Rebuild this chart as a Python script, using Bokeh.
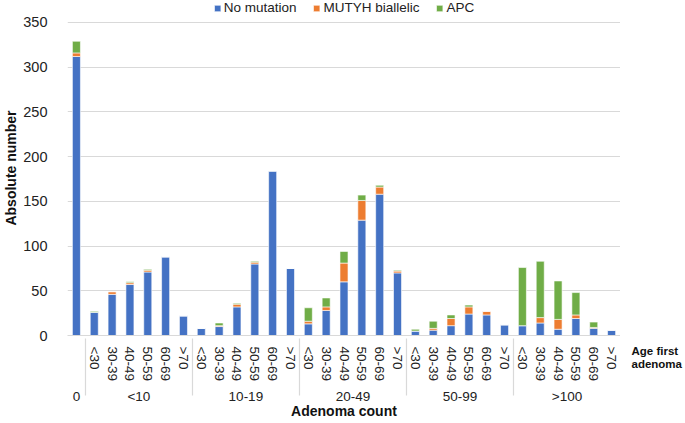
from bokeh.plotting import figure
from bokeh.layouts import row
from bokeh.models import (FactorRange, Range1d, ColumnDataSource, Legend, LegendItem,
                          FixedTicker, Title)
from bokeh.embed import file_html
from bokeh.resources import INLINE

# ---- data ----
groups = ["0", "<10", "10-19", "20-49", "50-99", ">100"]
ages = ["<30", "30-39", "40-49", "50-59", "60-69", ">70"]
series = ["No mutation", "MUTYH biallelic", "APC"]
no_mutation = [312, 26, 46, 57, 71, 88, 22, 8, 10, 32, 80, 184, 75,
               13, 28, 60, 129, 158, 70, 5, 6, 11, 24, 23, 12,
               11, 14, 7, 19, 8, 6]
mutyh = [4, 0, 3, 2, 2, 0, 0, 0, 1, 3, 2, 0, 0,
         3, 4, 21, 22, 8, 2, 0, 2, 8, 8, 4, 0,
         0, 6, 11, 4, 1, 0]
apc = [13, 1, 0, 1, 1, 0, 0, 0, 3, 1, 1, 0, 0,
       15, 10, 13, 6, 2, 1, 2, 8, 4, 2, 0, 0,
       65, 63, 43, 25, 6, 0]
y_ticks = [0, 50, 100, 150, 200, 250, 300, 350]
side_title = ["Age first", "adenoma"]
colors = ["#4472C4", "#ED7D31", "#70AD47"]

factors = [(groups[0], "")] + [(g, a) for g in groups[1:] for a in ages]
source = ColumnDataSource(dict(x=factors, nm=no_mutation, mu=mutyh, apc=apc))

FONT = "Liberation Sans"
TXT = "#222222"
GRID = "#d9d9d9"

H = 423
p = figure(x_range=FactorRange(*factors, group_padding=0, subgroup_padding=0,
                               factor_padding=0, range_padding=0),
           y_range=Range1d(0, 374.6),
           width=620, height=H, output_backend="svg", toolbar_location=None,
           min_border_left=67, min_border_right=0, min_border_top=0,
           min_border_bottom=88)
p.outline_line_color = None
p.background_fill_color = "white"

rs = p.vbar_stack(["nm", "mu", "apc"], x="x", width=0.45, source=source,
                  color=colors, line_color="white", line_width=0.6)

# grid
p.xgrid.grid_line_color = None
p.ygrid.grid_line_color = GRID
p.ygrid.grid_line_width = 1.2

# y axis
p.yaxis.ticker = FixedTicker(ticks=y_ticks)
p.yaxis.axis_line_color = None
p.yaxis.major_tick_line_color = None
p.yaxis.minor_tick_line_color = None
p.yaxis.major_label_standoff = 14
p.yaxis.major_label_text_font = FONT
p.yaxis.major_label_text_font_size = "14.5px"
p.yaxis.major_label_text_color = TXT
p.yaxis.axis_label = "Absolute number"
p.yaxis.axis_label_text_font = FONT
p.yaxis.axis_label_text_font_style = "bold"
p.yaxis.axis_label_text_font_size = "14px"
p.yaxis.axis_label_text_color = "#111111"
p.yaxis.axis_label_standoff = 1

# x axis
xa = p.xaxis[0]
xa.axis_line_color = GRID
xa.axis_line_width = 1.2
xa.major_tick_line_color = None
xa.minor_tick_line_color = None
xa.major_label_orientation = "vertical"
xa.major_label_standoff = 5
xa.major_label_text_font = FONT
xa.major_label_text_font_size = "13.5px"
xa.major_label_text_color = TXT
xa.group_text_font = FONT
xa.group_text_font_size = "13.5px"
xa.group_text_color = TXT
xa.group_text_font_style = "normal"
xa.separator_line_color = GRID
xa.separator_line_width = 1.2
xa.axis_label = "Adenoma count"
xa.axis_label_text_font = FONT
xa.axis_label_text_font_style = "bold"
xa.axis_label_text_font_size = "14px"
xa.axis_label_text_color = "#111111"
xa.axis_label_standoff = -4

legend = Legend(items=[LegendItem(label=s, renderers=[r]) for s, r in zip(series, rs)],
                orientation="horizontal", location="top_center",
                label_text_font=FONT, label_text_font_size="13.5px",
                label_text_color=TXT,
                glyph_width=8, glyph_height=8, label_standoff=3, spacing=16,
                padding=0, margin=0, border_line_color=None,
                background_fill_alpha=0, label_height=12)
p.add_layout(legend)

# right-hand strip carrying the "Age first adenoma" caption of the sub-axis
p2 = figure(width=685 - 620, height=H, output_backend="svg", toolbar_location=None,
            x_range=Range1d(0, 1), y_range=Range1d(0, 1),
            min_border=0, x_axis_type=None, y_axis_type=None)
p2.outline_line_color = None
p2.xgrid.visible = False
p2.ygrid.visible = False
p2.add_layout(Title(text="\n".join(side_title), align="left", offset=11, standoff=14,
                    text_font=FONT, text_font_style="bold", text_line_height=1.15,
                    text_font_size="11.5px", text_color="#111111"), "below")

layout = row(p, p2, spacing=0)
open("out.html", "w").write(file_html(layout, INLINE))
